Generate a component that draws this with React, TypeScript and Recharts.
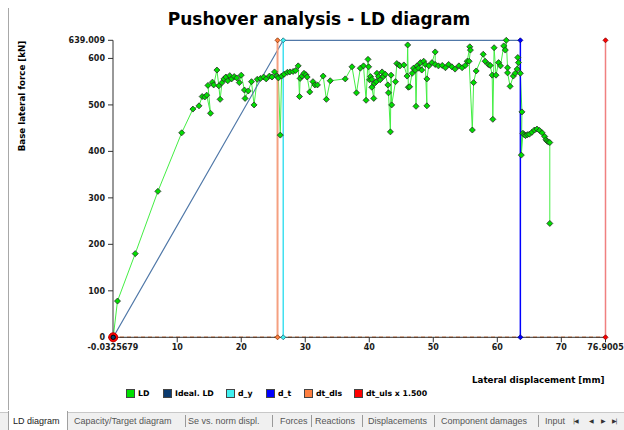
import React from 'react'
import { LineChart, Line, XAxis, YAxis, ReferenceLine, ReferenceDot } from 'recharts'

// LD curve (displacement mm / base force kN)
const ldDisp = [
  0, 0.67, 3.44, 6.98, 10.7, 12.45, 13.4, 13.9, 14.3, 14.6, 15.2, 14.8, 15.5, 15.7, 16.2, 16.5, 16.7,
  17.0, 17.3, 17.6, 17.9, 18.2, 18.5, 18.9, 19.3, 19.7, 20.0, 20.5, 20.6, 21.1, 21.6, 22.0, 22.5, 23.0,
  23.5, 23.9, 24.4, 24.8, 25.2, 25.6, 25.8, 26.1, 26.3, 26.7, 27.2, 27.6, 28.1, 28.5, 28.9, 29.1, 29.2,
  29.5, 29.8, 30.1, 30.3, 30.7, 31.2, 31.5, 31.9, 32.8, 33.3, 33.9, 36.25, 37.3, 38.0, 38.6, 39.1, 39.5,
  39.8, 39.9, 40.05, 40.2, 40.4, 40.4, 40.7, 40.8, 41.1, 41.2, 41.45, 41.7, 42.0, 42.2, 42.5, 42.9, 43.0,
  43.3, 43.4, 43.5, 44.1, 44.3, 44.6, 44.8, 45.4, 45.9, 46.0, 46.1, 46.3, 46.7, 46.9, 47.2, 47.3, 47.45,
  47.7, 48.0, 48.2, 48.5, 48.75, 49.0, 49.0, 49.3, 49.8, 50.3, 50.3, 50.8, 51.4, 51.9, 52.4, 52.9, 53.4,
  54.0, 54.5, 55.0, 55.3, 55.7, 55.8, 55.6, 56.1, 56.3, 56.7, 57.8, 58.1, 58.6, 58.9, 59.2, 59.3, 59.5,
  59.8, 60.2, 60.5, 61.0, 61.25, 61.4, 61.6, 61.6, 62.0, 62.5, 62.8, 63.1, 63.2, 63.3, 63.6, 63.85,
  63.75, 64.0, 64.2, 64.4, 64.7, 65.0, 65.4, 65.8, 66.2, 66.6, 67.0, 67.4, 67.6, 67.8, 68.0, 68.2, 68.2,
]
const ldForce = [
  0, 78, 180, 314, 440, 491, 498, 518, 517, 521, 482, 542, 549, 543, 575, 541, 512,
  548, 556, 560, 552, 563, 556, 561, 558, 548, 564, 532, 514, 530, 550, 500, 555, 557,
  560, 556, 562, 560, 571, 562, 558, 435, 562, 566, 570, 571, 572, 574, 584, 518, 557,
  562, 568, 565, 560, 528, 550, 543, 543, 562, 512, 552, 556, 582, 526, 579, 584, 510,
  598, 582, 554, 561, 555, 538, 514, 546, 550, 568, 561, 554, 571, 561, 566, 543, 526,
  442, 564, 500, 550, 589, 586, 584, 586, 562, 629, 538, 539, 568, 579, 575, 497, 584,
  579, 591, 575, 594, 587, 498, 556, 584, 591, 614, 587, 584, 585, 580, 587, 582, 577,
  584, 580, 585, 594, 625, 618, 594, 446, 548, 573, 609, 594, 587, 585, 564, 469, 623,
  564, 591, 584, 627, 618, 639, 580, 569, 540, 562, 568, 577, 602, 591, 568, 485,
  392, 439, 436, 434, 436, 437, 441, 446, 448, 445, 440, 432, 425, 422, 420, 419, 245,
]

const fMax = 639.009
const dMin = -0.0325679
const dMax = 76.9005

const idealDisp = [0, 26.56, 63.6]
const idealForce = [0, fMax, fMax]

const dY = 26.56
const dT = 63.6
const dtDls = 25.67
const dtUls = dMax

const xTicks = [dMin, 10, 20, 30, 40, 50, 60, 70, dMax]
const yTicks = [0, 100, 200, 300, 400, 500, 600, fMax]

const legendItems = [
  { label: 'LD', color: '#00e000', left: 126 },
  { label: 'Ideal. LD', color: '#0b3a6e', left: 163 },
  { label: 'd_y', color: '#40f0f0', left: 226 },
  { label: 'd_t', color: '#0000ff', left: 266 },
  { label: 'dt_dls', color: '#ff7f40', left: 304 },
  { label: 'dt_uls x 1.500', color: '#ff0000', left: 354 },
]

const tabs = [
  { label: 'Capacity/Target diagram', left: 74 },
  { label: 'Se vs. norm displ.', left: 188 },
  { label: 'Forces', left: 280 },
  { label: 'Reactions', left: 315 },
  { label: 'Displacements', left: 368 },
  { label: 'Component damages', left: 441 },
  { label: 'Input', left: 545 },
]
const tabSeps = [185, 272, 311, 362, 434, 538]
const navArrows = [
  { glyph: '|◀', left: 573 },
  { glyph: '◀', left: 589 },
  { glyph: '▶', left: 601 },
  { glyph: '▶|', left: 612 },
]

const ld = ldDisp.map((x, i) => ({ x, y: ldForce[i] }))
const ideal = idealDisp.map((x, i) => ({ x, y: idealForce[i] }))
const vline = (x: number) => [{ x, y: 0 }, { x, y: fMax }]

const font = '"DejaVu Sans", Verdana, sans-serif'
const uiFont = '"Liberation Sans", Arial, sans-serif'

function diamond(fill: string, stroke: string, r: number) {
  return (p: any) => {
    const { cx, cy, index } = p
    if (cx == null || cy == null) return <g key={index} />
    return (
      <path
        key={index}
        d={`M${cx},${cy - r}L${cx + r},${cy}L${cx},${cy + r}L${cx - r},${cy}Z`}
        fill={fill}
        stroke={stroke}
        strokeWidth={0.8}
      />
    )
  }
}

const fmt = (v: number) => String(v)

export default function App() {
  return (
    <div style={{ position: 'absolute', left: 0, top: 0, width: 624, height: 430, background: '#fff', fontFamily: font, overflow: 'hidden' }}>
      <div style={{ position: 'absolute', left: 8, top: 8, width: 1, height: 402, background: '#a8a8a8' }} />
      <div
        style={{
          position: 'absolute', left: 0, width: 624, top: 9, textAlign: 'center', paddingLeft: 14,
          fontSize: 17, fontWeight: 'bold', color: '#000', boxSizing: 'border-box',
        }}
      >
        Pushover analysis - LD diagram
      </div>
      <LineChart width={624} height={430} margin={{ top: 40.3, right: 18.5, bottom: 62.7, left: 0 }}>
        <XAxis
          type="number"
          dataKey="x"
          domain={[dMin, dMax]}
          ticks={xTicks}
          tickFormatter={fmt}
          interval={0}
          height={30}
          stroke="#333"
          tickSize={5}
          tickMargin={2}
          tick={{ fontSize: 8, fontWeight: 'bold', fill: '#1a1a1a', fontFamily: font }}
        />
        <YAxis
          type="number"
          domain={[0, fMax]}
          ticks={yTicks}
          tickFormatter={fmt}
          interval={0}
          width={113}
          stroke="#333"
          tickSize={5}
          tickMargin={3}
          tick={{ fontSize: 8, fontWeight: 'bold', fill: '#1a1a1a', fontFamily: font }}
        />
        <ReferenceLine y={0} stroke="#f08850" strokeWidth={1.5} strokeDasharray="4 3" />
        <Line
          data={ld}
          dataKey="y"
          stroke="#44ee44"
          strokeWidth={1}
          dot={diamond('#00dd00', '#2a2a2a', 3)}
          isAnimationActive={false}
        />
        <Line
          data={ideal}
          dataKey="y"
          stroke="#5078a8"
          strokeWidth={1.2}
          dot={false}
          isAnimationActive={false}
        />
        <Line data={vline(dY)} dataKey="y" stroke="#40e0f0" strokeWidth={1.5} dot={diamond('#40f0f0', '#207080', 2.5)} isAnimationActive={false} />
        <Line data={vline(dT)} dataKey="y" stroke="#0000ff" strokeWidth={1.5} dot={diamond('#0000ff', '#000080', 2.5)} isAnimationActive={false} />
        <Line data={vline(dtDls)} dataKey="y" stroke="#f5a080" strokeWidth={2} dot={diamond('#ff7f40', '#803000', 2.5)} isAnimationActive={false} />
        <Line data={vline(dtUls)} dataKey="y" stroke="#f08080" strokeWidth={1.5} dot={diamond('#ff0000', '#800000', 2.5)} isAnimationActive={false} />
        <ReferenceDot x={0} y={0} r={4.5} fill="#ff0000" stroke="#c00000" />
        <ReferenceDot x={0} y={0} r={2.2} fill="#0b3a6e" stroke="#000" />
      </LineChart>
      <div
        style={{
          position: 'absolute', left: 22, top: 96, transform: 'translate(-50%, -50%) rotate(-90deg)',
          whiteSpace: 'nowrap', fontSize: 8.7, fontWeight: 'bold', color: '#000',
        }}
      >
        Base lateral force [kN]
      </div>
      <div style={{ position: 'absolute', left: 472, top: 375, whiteSpace: 'nowrap', fontSize: 8.7, fontWeight: 'bold', color: '#000' }}>
        Lateral displacement [mm]
      </div>
      {legendItems.map((it) => (
        <div key={it.label} style={{ position: 'absolute', left: it.left, top: 389, display: 'flex', alignItems: 'center', whiteSpace: 'nowrap' }}>
          <div style={{ width: 7, height: 7, background: it.color, border: '1px solid #444', marginRight: 3 }} />
          <span style={{ fontSize: 7.8, fontWeight: 'bold', color: '#000' }}>{it.label}</span>
        </div>
      ))}
      <div style={{ position: 'absolute', left: 0, top: 412, width: 624, height: 18, background: '#f0f0f0', borderTop: '1px solid #c8c8c8' }} />
      <div
        style={{
          position: 'absolute', left: 8, top: 411, width: 58, height: 19, background: '#fff',
          borderLeft: '1px solid #a0a0a0', borderRight: '1px solid #a0a0a0',
        }}
      />
      <div style={{ position: 'absolute', left: 13, top: 416, fontSize: 9, fontFamily: uiFont, color: '#222', whiteSpace: 'nowrap' }}>
        LD diagram
      </div>
      {tabs.map((t) => (
        <div key={t.label} style={{ position: 'absolute', left: t.left, top: 416, fontSize: 9, fontFamily: uiFont, color: '#555', whiteSpace: 'nowrap' }}>
          {t.label}
        </div>
      ))}
      {tabSeps.map((x) => (
        <div key={x} style={{ position: 'absolute', left: x, top: 415, width: 1, height: 12, background: '#999' }} />
      ))}
      {navArrows.map((a) => (
        <div key={a.left} style={{ position: 'absolute', left: a.left, top: 417, fontSize: 6, color: '#333', whiteSpace: 'nowrap', letterSpacing: -1 }}>
          {a.glyph}
        </div>
      ))}
    </div>
  )
}
